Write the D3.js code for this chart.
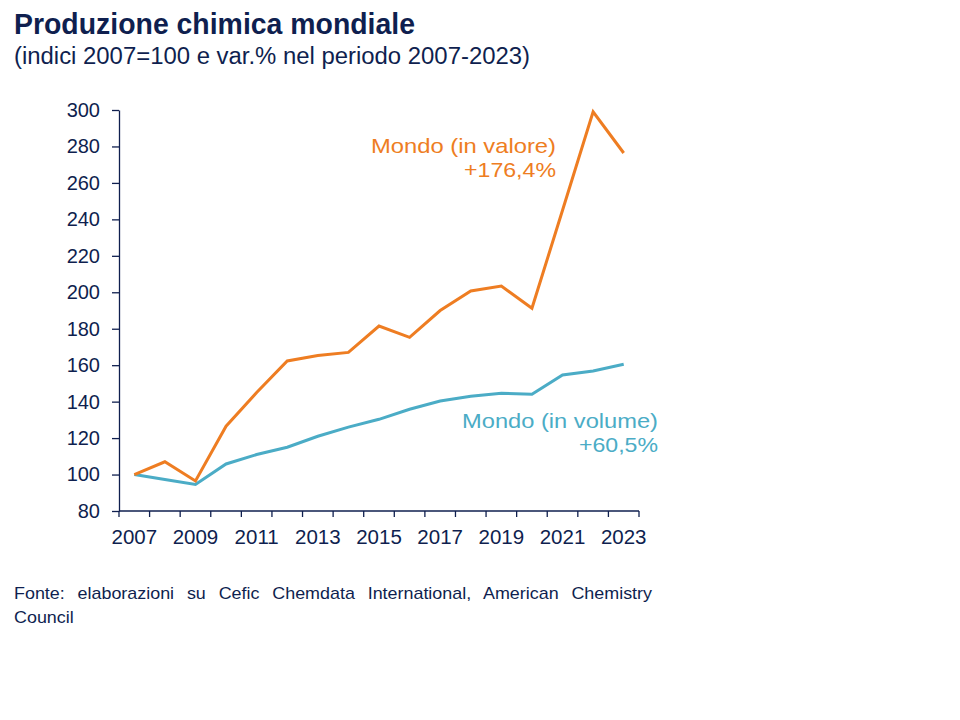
<!DOCTYPE html>
<html><head><meta charset="utf-8">
<script src="https://cdn.jsdelivr.net/npm/d3@7"></script>
<style>body{margin:0;background:#fff}svg{display:block}text{font-family:"Liberation Sans",Arial,sans-serif}</style>
</head><body>
<svg id="c" width="960" height="720"></svg>
<script>
const years = [2007,2008,2009,2010,2011,2012,2013,2014,2015,2016,2017,2018,2019,2020,2021,2022,2023];
const valore = [100,107,96.5,126.5,145,162.3,165.3,167,181.5,175.3,190,200.7,203.4,191.2,245,299,276.4];
const volume = [100,97.3,94.6,105.8,111,115,121,126,130.3,135.8,140.3,143,144.6,144,154.6,156.8,160.5];
const yTicks = [80,100,120,140,160,180,200,220,240,260,280,300];
const xLabelYears = [2007,2009,2011,2013,2015,2017,2019,2021,2023];

const navy = "#0F1F4F", orange = "#EE7D22", teal = "#4BACC6";
const svg = d3.select("#c");

function fit(sel, width){ sel.attr("textLength",width).attr("lengthAdjust","spacingAndGlyphs"); return sel; }

fit(svg.append("text").attr("x",14).attr("y",34).attr("fill",navy)
  .attr("font-size",29).attr("font-weight","bold").text("Produzione chimica mondiale"), 401);
fit(svg.append("text").attr("x",14).attr("y",64).attr("fill",navy)
  .attr("font-size",23).text("(indici 2007=100 e var.% nel periodo 2007-2023)"), 516);

const x = d3.scaleBand().domain(years).range([119,639]);
const y = d3.scaleLinear().domain([80,300]).range([511,110]);

const gy = svg.append("g").attr("transform","translate(119,0)")
  .call(d3.axisLeft(y).tickValues(yTicks).tickSize(7).tickPadding(12).tickSizeOuter(0));
gy.selectAll("text").attr("font-size",20).attr("fill",navy).attr("font-family","Liberation Sans, Arial, sans-serif");
gy.selectAll("line,path").attr("stroke",navy).attr("stroke-width",1.3);

const gx = svg.append("g").attr("transform","translate(0,511)");
gx.append("line").attr("x1",119).attr("x2",639).attr("y1",0).attr("y2",0).attr("stroke",navy).attr("stroke-width",1.3);
const bounds = years.map(d=>x(d)).concat([x(years[years.length-1])+x.bandwidth()]);
gx.selectAll("line.t").data(bounds).enter().append("line").attr("class","t")
  .attr("x1",d=>d).attr("x2",d=>d).attr("y1",0).attr("y2",6).attr("stroke",navy).attr("stroke-width",1.3);
gx.selectAll("text").data(xLabelYears).enter().append("text")
  .attr("x",d=>x(d)+x.bandwidth()/2).attr("y",33).attr("text-anchor","middle")
  .attr("font-size",20.5).attr("fill",navy).text(d=>d);

const line = d3.line().x((d,i)=>x(years[i])+x.bandwidth()/2).y(d=>y(d));
svg.append("path").datum(volume).attr("d",line).attr("fill","none").attr("stroke",teal).attr("stroke-width",3);
svg.append("path").datum(valore).attr("d",line).attr("fill","none").attr("stroke",orange).attr("stroke-width",3);

function label(lines, widths, xr, y0, col){
  lines.forEach((t,i)=>fit(svg.append("text").attr("x",xr).attr("y",y0+i*24).attr("text-anchor","end")
    .attr("font-size",21).attr("fill",col).text(t), widths[i]));
}
label(["Mondo (in valore)","+176,4%"],[185,92],556,153,orange);
label(["Mondo (in volume)","+60,5%"],[196,79],658,428,teal);

const sg = svg.append("g").attr("transform","translate(14,0) scale(1.12,1)");
const src1 = sg.append("text").attr("x",0).attr("y",599).attr("font-size",16).attr("fill",navy)
  .text("Fonte: elaborazioni su Cefic Chemdata International, American Chemistry");
const w = src1.node().getComputedTextLength();
src1.attr("word-spacing",((652-14)/1.12-w)/7);
sg.append("text").attr("x",0).attr("y",623).attr("font-size",16).attr("fill",navy).text("Council");
</script>
</body></html>
